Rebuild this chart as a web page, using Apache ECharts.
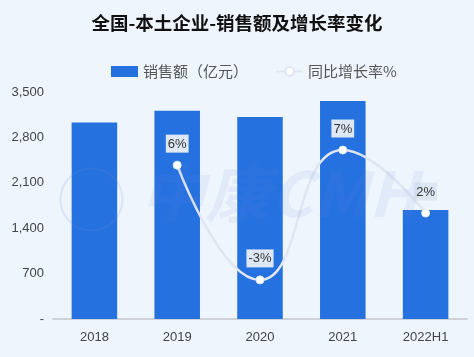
<!DOCTYPE html>
<html><head><meta charset="utf-8">
<script src="https://cdn.jsdelivr.net/npm/echarts@6/dist/echarts.min.js"></script>
<style>html,body{margin:0;padding:0;background:#eef5fd}#c{width:474px;height:357px}</style>
</head><body><div id="c"></div>
<script>
const categories = ['2018','2019','2020','2021','2022H1'];
const salesValues = [3030, 3210, 3115, 3360, 1680];
const growthValues = [null, 6.2, -2.9, 7.4, 2.4];
const yTicks = [0, 700, 1400, 2100, 2800, 3500];
const titleText = '全国-本土企业-销售额及增长率变化';
const seriesNames = ['销售额（亿元）', '同比增长率%'];

const chart = echarts.init(document.getElementById('c'));
chart.setOption({
  backgroundColor: '#eef5fd',
  animation: false,
  title: {
    text: titleText, left: 'center', top: 9,
    textStyle: {fontSize: 18.5, fontWeight: 'bold', color: '#111', fontFamily: 'Noto Sans CJK SC'}
  },
  legend: {
    top: 59, left: 106, itemGap: 27, itemWidth: 27, itemHeight: 11,
    textStyle: {fontSize: 15, color: '#555', fontFamily: 'Noto Sans CJK SC'},
    data: [
      {name: seriesNames[0], icon: 'rect'},
      {name: seriesNames[1]}
    ]
  },
  grid: {left: 53, right: 7, top: 92, bottom: 38},
  xAxis: {
    type: 'category', data: categories,
    axisLine: {lineStyle: {color: '#cfd3d8', width: 2}},
    axisTick: {show: false},
    axisLabel: {color: '#444', fontSize: 13, margin: 12, fontFamily: 'Liberation Sans'}
  },
  yAxis: [{
    type: 'value', min: yTicks[0], max: yTicks[yTicks.length-1], interval: 700,
    splitLine: {show: false},
    axisLine: {show: false}, axisTick: {show: false},
    axisLabel: {color: '#444', fontSize: 13, margin: 9, fontFamily: 'Liberation Sans',
      formatter: v => v === 0 ? '-' : v.toLocaleString('en-US')}
  }, {
    type: 'value', min: -6, max: 12, show: false, splitLine: {show: false}
  }],
  series: [{
    name: seriesNames[0], type: 'bar', data: salesValues, barWidth: '55%',
    itemStyle: {color: '#2571e0'}
  }, {
    name: seriesNames[1], type: 'line', yAxisIndex: 1, data: growthValues,
    smooth: 0.5, symbol: 'circle', symbolSize: 8, connectNulls: true,
    lineStyle: {color: '#dfe6f2', width: 2.5},
    itemStyle: {color: '#ffffff', borderColor: '#dfe6f2', borderWidth: 1},
    label: {
      show: true, position: 'top', distance: 8,
      formatter: p => Math.round(p.value) + '%',
      color: '#333', fontSize: 13, fontFamily: 'Liberation Sans',
      backgroundColor: '#dde8f4', padding: [3, 2, 2, 2]
    },
    z: 3
  }],
  graphic: [{
    type: 'text', left: 140, top: 162, z: 100, silent: true, scaleX: 1.05,
    style: {text: '中康CMH', fontSize: 62, fontStyle: 'italic', fontWeight: 'bold',
      fill: 'rgba(120,140,220,0.10)', fontFamily: 'Noto Sans CJK SC'}
  }, {
    type: 'circle', left: 58, top: 166, z: 100, silent: true,
    shape: {r: 31},
    style: {fill: 'none', stroke: 'rgba(120,140,220,0.16)', lineWidth: 2}
  }]
});
</script></body></html>
